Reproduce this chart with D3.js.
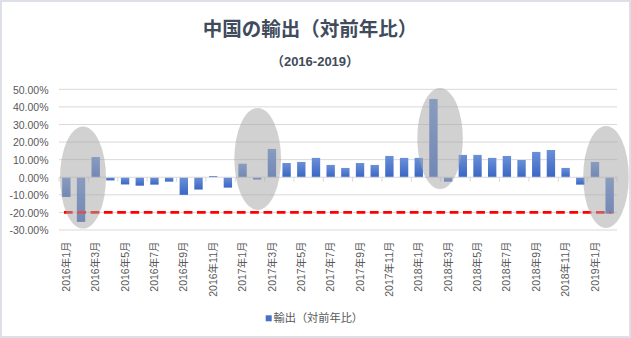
<!DOCTYPE html>
<html>
<head>
<meta charset="utf-8">
<script src="https://cdn.jsdelivr.net/npm/d3@7"></script>
<style>
  html, body { margin: 0; padding: 0; background: #fff; }
  svg { display: block; }
  text { font-family: "Liberation Sans", "Noto Sans CJK JP", sans-serif; }
</style>
</head>
<body>
<svg id="chart" width="631" height="338"></svg>
<script>
// Monthly categories, 2016年1月 … 2019年2月
const years = [2016, 2017, 2018, 2019];
const months = [];
years.forEach(y => {
  for (let m = 1; m <= 12; m++) {
    if (y === 2019 && m > 2) break;
    months.push(`${y}年${m}月`);
  }
});

// 輸出（対前年比）, percent
const exportsYoY = [
  -11.2, -25.4, 11.5, -1.8, -4.1, -4.8, -4.2, -2.5, -10.0, -7.0, 0.7, -5.9,
  7.7, -1.3, 16.1, 8.1, 8.7, 11.0, 7.0, 5.3, 8.1, 7.0, 12.1, 11.0,
  11.0, 44.5, -2.5, 12.7, 12.7, 11.0, 12.1, 9.8, 14.4, 15.5, 5.3, -4.2,
  8.7, -20.7
];

const yTicks = [50, 40, 30, 20, 10, 0, -10, -20, -30];
const threshold = -20;

// Highlighted periods: span in month positions, extent in percent
const highlights = [
  { start: 0.07, end: 3.2, top: 28.8, bottom: -29.2 },
  { start: 11.94, end: 15.12, top: 39.4, bottom: -18.6 },
  { start: 24.4, end: 27.5, top: 50.7, bottom: -6.7 },
  { start: 35.7, end: 38.8, top: 29.2, bottom: -28.8 }
];

const title = "中国の輸出（対前年比）";
const subtitle = "（2016-2019）";
const seriesName = "輸出（対前年比）";

const svg = d3.select("#chart");
const W = 631, H = 338;
const plot = { left: 59, right: 617, top: 89.3, bottom: 230 };

// frame
svg.append("rect")
  .attr("x", 1).attr("y", 1).attr("width", W - 2).attr("height", H - 2)
  .attr("fill", "#fff").attr("stroke", "#dde1e7").attr("stroke-width", 2);

const defs = svg.append("defs");
const grad = defs.append("linearGradient").attr("id", "barGrad")
  .attr("x1", 0).attr("y1", 0).attr("x2", 0).attr("y2", 1);
grad.append("stop").attr("offset", "0%").attr("stop-color", "#6b90d8");
grad.append("stop").attr("offset", "100%").attr("stop-color", "#3a66c4");

const x = d3.scaleBand().domain(months)
  .range([plot.left, plot.right]).paddingInner(0.43).paddingOuter(0.215);
const xPos = d3.scaleLinear().domain([0, months.length]).range([plot.left, plot.right]);
const y = d3.scaleLinear().domain([-30, 50]).range([plot.bottom, plot.top]);

// gridlines
svg.append("g").selectAll("line").data(yTicks.filter(t => t !== 0)).join("line")
  .attr("x1", plot.left).attr("x2", plot.right)
  .attr("y1", d => y(d)).attr("y2", d => y(d))
  .attr("stroke", "#d9d9d9").attr("stroke-width", 1);

// y axis labels
const yAxis = d3.axisLeft(y).tickValues(yTicks)
  .tickFormat(d => d.toFixed(2) + "%").tickSize(0).tickPadding(0);
const yg = svg.append("g").attr("transform", `translate(${plot.left - 10.5},0)`).call(yAxis);
yg.select(".domain").remove();
yg.selectAll("text").attr("fill", "#595959").attr("font-size", "10.5px").attr("dy", "0.36em");

// bars
svg.append("g").selectAll("rect").data(exportsYoY).join("rect")
  .attr("x", (d, i) => x(months[i]))
  .attr("width", x.bandwidth())
  .attr("y", d => y(Math.max(0, d)))
  .attr("height", d => Math.abs(y(d) - y(0)))
  .attr("fill", "url(#barGrad)");

// category axis at zero with ticks every two months
const xg = svg.append("g");
xg.append("line")
  .attr("x1", plot.left).attr("x2", plot.right)
  .attr("y1", y(0)).attr("y2", y(0))
  .attr("stroke", "#d9d9d9").attr("stroke-width", 1);
xg.selectAll("line.tick").data(d3.range(0, months.length + 1, 2)).join("line")
  .attr("class", "tick")
  .attr("x1", d => xPos(d)).attr("x2", d => xPos(d))
  .attr("y1", y(0)).attr("y2", y(0) + 4.5)
  .attr("stroke", "#d9d9d9").attr("stroke-width", 1);

// rotated month labels
svg.append("g").selectAll("text")
  .data(months.filter((m, i) => i % 2 === 0)).join("text")
  .attr("transform", d => `translate(${x(d) + x.bandwidth() / 2 + 3.6},${plot.bottom + 11.5}) rotate(-90)`)
  .attr("text-anchor", "end")
  .attr("font-size", "10.5px")
  .attr("fill", "#595959")
  .text(d => d);

// reference line at -20%
svg.append("line")
  .attr("x1", 64).attr("x2", 611)
  .attr("y1", y(threshold)).attr("y2", y(threshold))
  .attr("stroke", "#ff0000").attr("stroke-width", 2.75)
  .attr("stroke-dasharray", "8.7,4.6");

// highlight ellipses
svg.append("g").selectAll("ellipse").data(highlights).join("ellipse")
  .attr("cx", d => (xPos(d.start) + xPos(d.end)) / 2)
  .attr("cy", d => (y(d.top) + y(d.bottom)) / 2)
  .attr("rx", d => (xPos(d.end) - xPos(d.start)) / 2)
  .attr("ry", d => (y(d.bottom) - y(d.top)) / 2)
  .attr("fill", "#a6a6a6").attr("fill-opacity", 0.52);

// titles
svg.append("text")
  .attr("x", 310).attr("y", 36)
  .attr("text-anchor", "middle")
  .attr("font-family", "'Noto Sans CJK JP', sans-serif")
  .attr("font-size", "19.5px").attr("font-weight", 700)
  .attr("fill", "#404b5c")
  .text(title);
svg.append("text")
  .attr("x", 315).attr("y", 66)
  .attr("text-anchor", "middle")
  .attr("font-family", "'Noto Sans CJK JP', sans-serif")
  .attr("font-size", "13px").attr("font-weight", 700)
  .attr("fill", "#404b5c")
  .text(subtitle);

// legend
const lg = svg.append("g");
lg.append("rect").attr("x", 265.7).attr("y", 315.3).attr("width", 6).attr("height", 6)
  .attr("fill", "#4472c4");
lg.append("text").attr("x", 273.5).attr("y", 322)
  .attr("font-family", "'Noto Sans CJK JP', sans-serif")
  .attr("font-size", "11.2px").attr("fill", "#595959")
  .text(seriesName);
</script>
</body>
</html>
